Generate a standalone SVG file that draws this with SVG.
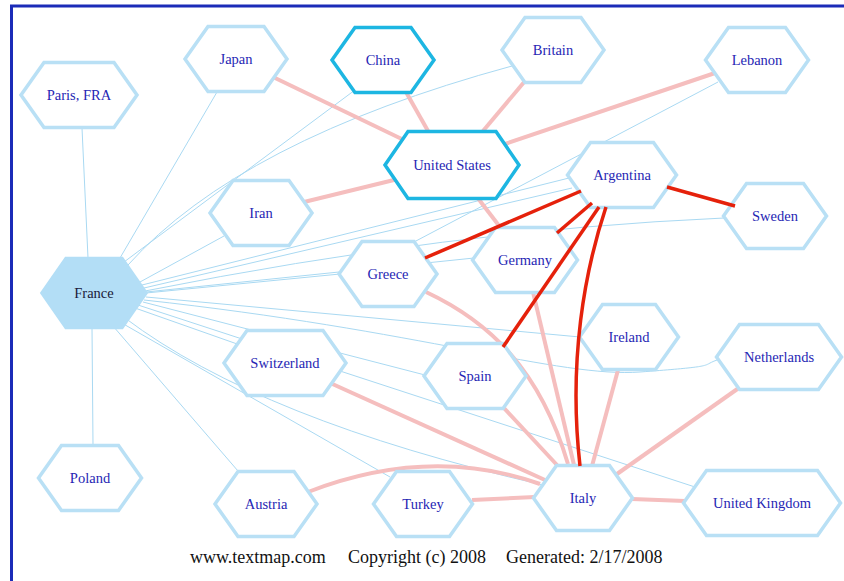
<svg xmlns="http://www.w3.org/2000/svg" width="844" height="581" viewBox="0 0 844 581">
<style>
.n polygon{fill:#fff;stroke:#b9e0f5;stroke-width:3.5;stroke-linejoin:miter}
.n.hl polygon{stroke:#1db6e2}
.n.fr polygon{fill:#b3def6;stroke:#b3def6}
.n text{font-family:"Liberation Serif","Times New Roman",serif;font-size:14.5px;fill:#2626b4;text-anchor:middle}
.n.fr text{fill:#1a1a3a}
.thin path{fill:none;stroke:#a9d9f2;stroke-width:1}
.pink path{fill:none;stroke:#f5bebe;stroke-width:4}
.red path{fill:none;stroke:#e5210b;stroke-width:3.5}
.foot{font-family:"Liberation Serif","Times New Roman",serif;font-size:18px;fill:#111}
</style>
<rect width="844" height="581" fill="#fff"/>
<path d="M11.5,581 V6 H844" fill="none" stroke="#1b2bb8" stroke-width="3"/>
<g id="connectors">
<g class="thin">
<path d="M88,258 L82,128"/>
<path d="M120,258 L217,92"/>
<path d="M124,262 L355,90"/>
<path d="M128,265 Q240,140 512,66"/>
<path d="M414,242 L718,82"/>
<path d="M140,282 L224,236"/>
<path d="M142,285 L569,178"/>
<path d="M144,288 L572,188"/>
<path d="M145,291 Q450,230 724,218"/>
<path d="M146,292 L474,258"/>
<path d="M146,293 L340,274"/>
<path d="M146,297 L580,337"/>
<path d="M144,300 C420,330 560,378 640,372 S700,366 717,360"/>
<path d="M143,302 L425,375"/>
<path d="M135,308 L240,345"/>
<path d="M138,305 L695,487"/>
<path d="M125,318 Q260,420 543,485"/>
<path d="M120,322 L390,477"/>
<path d="M113,326 L238,471"/>
<path d="M92,328 L93,445"/>
</g>
<g class="pink">
<path d="M273,77 L408,142"/>
<path d="M406,92 L428,131"/>
<path d="M525,81 L483,131"/>
<path d="M718,72 L502,145"/>
<path d="M304,202 L398,179"/>
<path d="M477,197 L500,227"/>
<path d="M533,292 L574,465"/>
<path d="M426,292 C490,322 540,370 568,464"/>
<path d="M328,382 L545,480"/>
<path d="M503,407 L557,465"/>
<path d="M308,492 Q430,445 540,484"/>
<path d="M472,500 L535,497"/>
<path d="M618,370 L592,466"/>
<path d="M743,385 L617,474"/>
<path d="M632,499 L685,501"/>
</g>
</g>
<g id="paris" class="n"><polygon points="21,95 44,62.5 114,62.5 137,95 114,127.5 44,127.5"/><text x="79" y="100">Paris, FRA</text></g>
<g id="japan" class="n"><polygon points="185,59 208,26.5 264,26.5 287,59 264,91.5 208,91.5"/><text x="236" y="64">Japan</text></g>
<g id="china" class="n hl"><polygon points="332,60 355,27.5 411,27.5 434,60 411,92.5 355,92.5"/><text x="383" y="65">China</text></g>
<g id="britain" class="n"><polygon points="502,50 525,17.5 581,17.5 604,50 581,82.5 525,82.5"/><text x="553" y="55">Britain</text></g>
<g id="lebanon" class="n"><polygon points="705.5,60 728.5,27.5 785.5,27.5 808.5,60 785.5,92.5 728.5,92.5"/><text x="757" y="65">Lebanon</text></g>
<g id="united-states" class="n hl"><polygon points="385,165 408,131.5 496,131.5 519,165 496,198.5 408,198.5"/><text x="452" y="170">United States</text></g>
<g id="iran" class="n"><polygon points="210,213 233,180.5 289,180.5 312,213 289,245.5 233,245.5"/><text x="261" y="218">Iran</text></g>
<g id="argentina" class="n"><polygon points="567.5,175 590.5,142.5 653.5,142.5 676.5,175 653.5,207.5 590.5,207.5"/><text x="622" y="180">Argentina</text></g>
<g id="sweden" class="n"><polygon points="723.5,216 746.5,183.5 803.5,183.5 826.5,216 803.5,248.5 746.5,248.5"/><text x="775" y="221">Sweden</text></g>
<g id="france" class="n fr"><polygon points="42,293 66,258.5 122,258.5 146,293 122,327.5 66,327.5"/><text x="94" y="298">France</text></g>
<g id="greece" class="n"><polygon points="339,274 362,241.5 414,241.5 437,274 414,306.5 362,306.5"/><text x="388" y="279">Greece</text></g>
<g id="germany" class="n"><polygon points="472.5,260 495.5,227.5 554.5,227.5 577.5,260 554.5,292.5 495.5,292.5"/><text x="525" y="265">Germany</text></g>
<g id="switzerland" class="n"><polygon points="224,363 247,330.5 323,330.5 346,363 323,395.5 247,395.5"/><text x="285" y="368">Switzerland</text></g>
<g id="spain" class="n"><polygon points="424,376 447,343.5 503,343.5 526,376 503,408.5 447,408.5"/><text x="475" y="381">Spain</text></g>
<g id="ireland" class="n"><polygon points="579.5,337 602.5,304.5 655.5,304.5 678.5,337 655.5,369.5 602.5,369.5"/><text x="629" y="342">Ireland</text></g>
<g id="netherlands" class="n"><polygon points="716.5,357 739.5,324.5 818.5,324.5 841.5,357 818.5,389.5 739.5,389.5"/><text x="779" y="362">Netherlands</text></g>
<g id="poland" class="n"><polygon points="38.5,478 61.5,445.5 118.5,445.5 141.5,478 118.5,510.5 61.5,510.5"/><text x="90" y="483">Poland</text></g>
<g id="austria" class="n"><polygon points="215,504 238,471.5 294,471.5 317,504 294,536.5 238,536.5"/><text x="266" y="509">Austria</text></g>
<g id="turkey" class="n"><polygon points="373.5,504 396.5,471.5 449.5,471.5 472.5,504 449.5,536.5 396.5,536.5"/><text x="423" y="509">Turkey</text></g>
<g id="italy" class="n"><polygon points="533.5,498 556.5,465.5 609.5,465.5 632.5,498 609.5,530.5 556.5,530.5"/><text x="583" y="503">Italy</text></g>
<g id="united-kingdom" class="n"><polygon points="683.5,503 706.5,470.5 817.5,470.5 840.5,503 817.5,535.5 706.5,535.5"/><text x="762" y="508">United Kingdom</text></g>
<g id="connectors-strong" class="red">
<path d="M581,191 L425,258"/>
<path d="M592,203 L557,233"/>
<path d="M599,207 L503,347"/>
<path d="M606,207 C585,270 568,360 580,466" stroke-width="4.5"/>
<path d="M667,187 L735,206"/>
</g>
<g id="footer">
<text class="foot" x="190" y="563">www.textmap.com</text>
<text class="foot" x="348" y="563">Copyright (c) 2008</text>
<text class="foot" x="506" y="563">Generated: 2/17/2008</text>
</g>
</svg>
